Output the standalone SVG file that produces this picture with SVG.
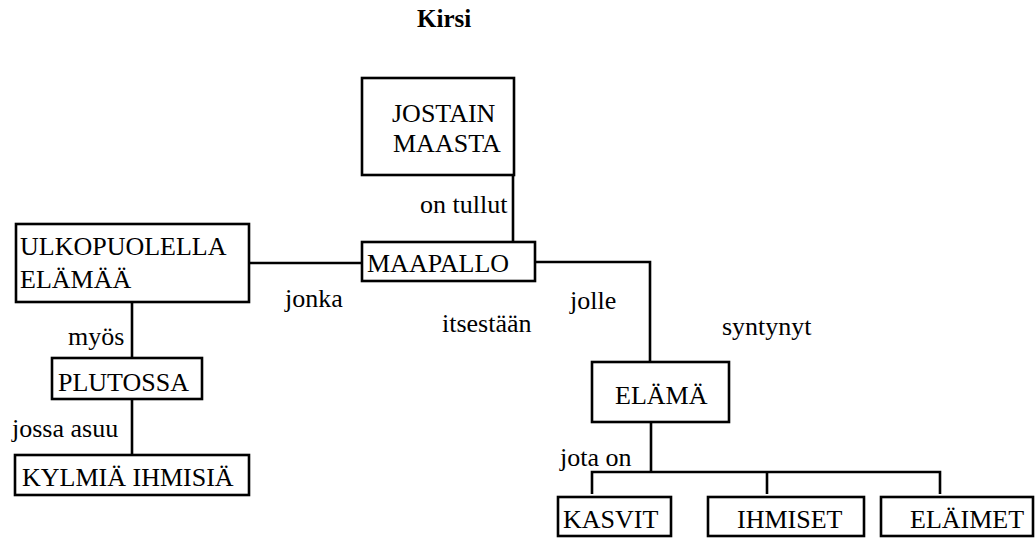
<svg xmlns="http://www.w3.org/2000/svg" width="1035" height="539" viewBox="0 0 1035 539" font-family="'Liberation Serif', 'DejaVu Serif', serif" font-size="26">
  <style>
    text { font-family: 'Liberation Serif', 'DejaVu Serif', serif; fill: #000; }
    .title { font-weight: bold; font-size: 25px; }
    .box { fill: #fff; stroke: #000; stroke-width: 2.6; }
    .link { fill: none; stroke: #000; stroke-width: 2.6; }
  </style>
  <rect width="1035" height="539" fill="#fff"/>

  <text class="title" x="417" y="27">Kirsi</text>

  <!-- connectors and their labels -->
  <g id="connectors">
    <path class="link" d="M513 175 V242"/>
    <path class="link" d="M249 263 H362"/>
    <path class="link" d="M535 262 H650 V362"/>
    <path class="link" d="M132 302 V358"/>
    <path class="link" d="M132 399 V455"/>
    <path class="link" d="M651 422 V472"/>
    <path class="link" d="M592 494 V472 H940 V494"/>
    <path class="link" d="M767 472 V494"/>
    <text x="420" y="213">on tullut</text>
    <text x="285" y="307">jonka</text>
    <text x="570" y="309">jolle</text>
    <text x="442" y="332">itsestään</text>
    <text x="722" y="335">syntynyt</text>
    <text x="68" y="345">myös</text>
    <text x="12" y="437">jossa asuu</text>
    <text x="560" y="466">jota on</text>
  </g>

  <g id="jostain-maasta">
    <rect class="box" x="362" y="78" width="152" height="97"/>
    <text x="392" y="122">JOSTAIN</text>
    <text x="393" y="152">MAASTA</text>
  </g>
  <g id="maapallo">
    <rect class="box" x="362" y="242" width="173" height="39"/>
    <text x="367" y="272">MAAPALLO</text>
  </g>
  <g id="ulkopuolella-elamaa">
    <rect class="box" x="16" y="224" width="233" height="78"/>
    <text x="20" y="255">ULKOPUOLELLA</text>
    <text x="20" y="288">ELÄMÄÄ</text>
  </g>
  <g id="plutossa">
    <rect class="box" x="52" y="358" width="150" height="41"/>
    <text x="58" y="391">PLUTOSSA</text>
  </g>
  <g id="kylmia-ihmisia">
    <rect class="box" x="15" y="455" width="234" height="40"/>
    <text x="22" y="486">KYLMIÄ IHMISIÄ</text>
  </g>
  <g id="elama">
    <rect class="box" x="592" y="362" width="137" height="60"/>
    <text x="615" y="404">ELÄMÄ</text>
  </g>
  <g id="kasvit">
    <rect class="box" x="558" y="497" width="113" height="39"/>
    <text x="563" y="528">KASVIT</text>
  </g>
  <g id="ihmiset">
    <rect class="box" x="708" y="497" width="156" height="39"/>
    <text x="737" y="528">IHMISET</text>
  </g>
  <g id="elaimet">
    <rect class="box" x="881" y="497" width="152" height="39"/>
    <text x="910" y="528">ELÄIMET</text>
  </g>
</svg>
